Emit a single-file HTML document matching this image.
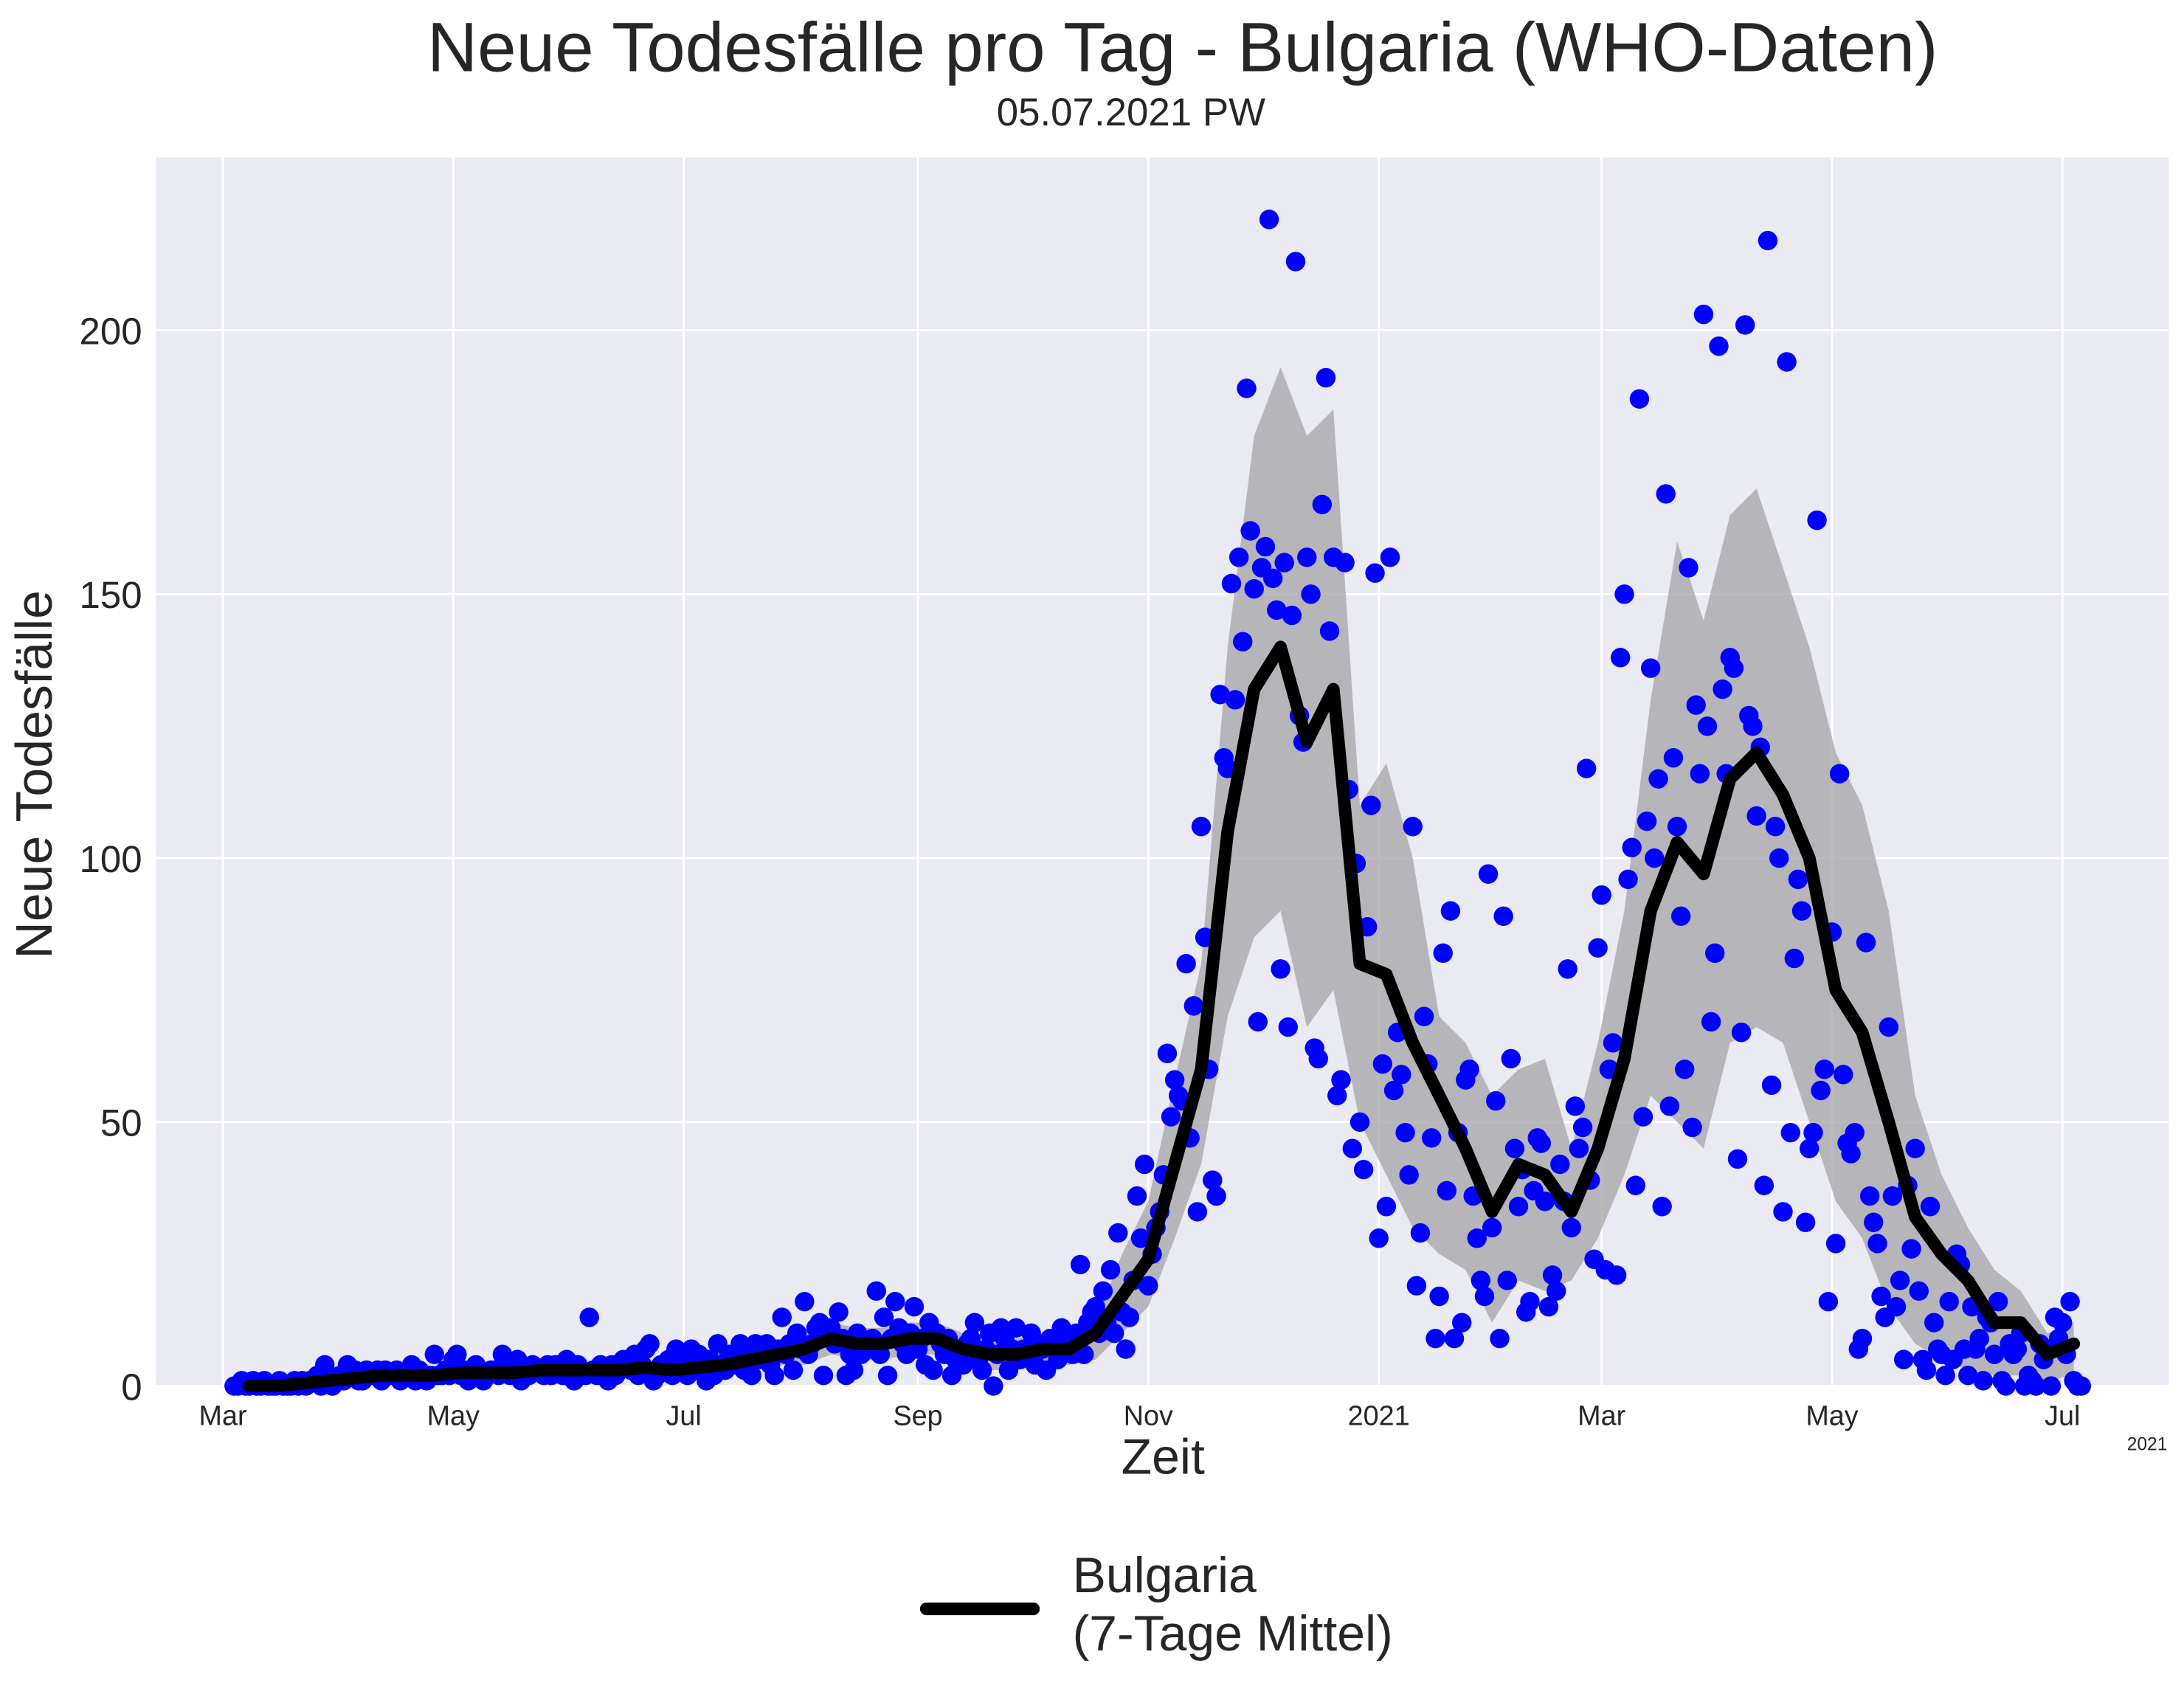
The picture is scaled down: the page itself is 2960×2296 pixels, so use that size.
<!DOCTYPE html>
<html><head><meta charset="utf-8"><style>
html,body{margin:0;padding:0;background:#fff}
svg{display:block}
text{font-family:"Liberation Sans",Arial,sans-serif;fill:#262626}
</style></head><body>
<svg id="chart" width="2960" height="2296" viewBox="0 0 1568 1216" xmlns="http://www.w3.org/2000/svg">
<rect x="112" y="113" width="1445" height="882" fill="#eaeaf2"/>
<g id="grid"></g>
<g id="band"></g>
<g id="dots"></g>
<g id="meanline"></g>
<g id="ticks"></g>
<text x="849" y="51" font-size="50" text-anchor="middle">Neue Todesfälle pro Tag - Bulgaria (WHO-Daten)</text>
<text x="812" y="90" font-size="28" text-anchor="middle">05.07.2021 PW</text>
<text x="0" y="0" font-size="37" text-anchor="middle" transform="translate(37,556) rotate(-90)">Neue Todesfälle</text>
<text x="835" y="1058" font-size="36" text-anchor="middle">Zeit</text>
<text x="1556" y="1041" font-size="13" text-anchor="end">2021</text>
<g>
<line x1="665" y1="1155" x2="742" y2="1155" stroke="#000" stroke-width="9" stroke-linecap="round"/>
<text x="770" y="1143" font-size="36">Bulgaria</text>
<text x="770" y="1185" font-size="36">(7-Tage Mittel)</text>
</g>
</svg>
<script>
const monthLabels=["Mar","May","Jul","Sep","Nov","2021","Mar","May","Jul"];
const monthDays=[0,61,122,184,245,306,365,426,487];
const yTicks=[0,50,100,150,200];
const meanWeekly=[0,0,0.5,1,1.5,2,2,2,2.5,2.5,2.5,3,3,3,3,3.5,3,3.5,4,5,6,7,9,8,8,9,9,7,6,6,7,7,10,17,24,42,60,105,132,140,122,132,80,78,65,55,45,33,42,40,33,45,62,90,103,97,115,120,112,100,75,67,50,32,25,20,12,12,6,8];
const upperWeekly=[1,1,1.5,2,3,3,3,3,4,4,4,4.5,4.5,4.5,4.5,5,4.5,5,6,7,8,10,12,11,11,12,12,10,9,9,10,10,12,25,35,58,80,140,180,193,180,185,110,118,100,70,65,55,60,62,45,65,90,130,160,145,165,170,155,140,120,110,90,55,40,30,22,18,10,12];
const lowerWeekly=[0,0,0,0,0,0.5,0.5,0.5,1,1,1,1.5,1.5,1.5,1.5,2,1.5,2,2,3,4,4,6,5,5,6,6,4,3,3,4,4,5,10,15,28,42,70,85,90,68,75,50,40,30,25,22,12,20,18,20,28,40,55,50,45,65,68,65,50,35,28,15,8,5,3,2,2,1,2];
const dailyValues=[0,0,1,0,0,1,0,0,1,0,0,0,1,0,0,0,1,0,1,0,1,1,2,0,4,1,0,1,
2,1,4,2,3,1,1,3,2,2,3,1,3,2,2,3,1,2,2,4,1,3,2,1,2,6,2,2,
3,2,5,6,2,3,1,2,4,3,1,2,3,3,2,6,3,2,4,5,1,3,2,4,3,3,2,4,
2,4,3,2,5,3,1,4,2,2,13,3,2,4,3,1,4,2,3,5,4,3,6,2,4,7,8,1,
2,4,3,5,2,7,3,4,2,7,3,6,4,1,5,2,8,4,3,6,4,5,8,3,7,2,8,5,
6,8,4,2,7,13,6,8,3,10,7,16,6,8,11,12,2,10,11,8,14,9,2,6,3,10,6,8,
7,9,18,6,13,2,9,16,11,8,6,10,15,7,9,4,12,3,10,8,6,9,2,5,7,4,8,9,
12,5,3,7,10,0,6,11,9,3,7,11,5,7,6,10,4,8,7,3,9,8,5,11,9,7,6,10,
23,6,12,14,15,10,18,12,22,10,29,14,7,13,20,36,28,42,19,25,30,33,40,63,51,58,55,54,
80,47,72,33,106,85,60,39,36,131,119,117,152,130,157,141,189,162,151,69,155,159,221,153,147,79,156,68,
146,213,127,122,157,150,64,62,167,191,143,157,55,58,156,113,45,99,50,41,87,110,154,28,61,34,157,56,
67,59,48,40,106,19,29,70,61,47,9,17,82,37,90,9,48,12,58,60,36,28,20,17,97,30,54,9,
89,20,62,45,34,41,14,16,37,47,46,35,15,21,18,42,35,79,30,53,45,49,117,39,24,83,93,22,
60,65,21,138,150,96,102,38,187,51,107,136,100,115,34,169,53,119,106,89,60,155,49,129,116,203,125,69,
82,197,132,116,138,136,43,67,201,127,125,108,121,38,217,57,106,100,33,194,48,81,96,90,31,45,48,164,
56,60,16,86,27,116,59,46,44,48,7,9,84,36,31,27,17,13,68,36,15,20,5,38,26,45,18,5,
3,34,12,7,6,2,16,5,25,23,7,2,15,7,9,1,13,12,6,16,1,0,8,6,7,10,0,2,
1,0,8,5,7,0,13,9,12,6,16,1,0,0];

const NS="http://www.w3.org/2000/svg";
const X0=160, PXD=2.712, START=7, DOT_START=3;
function xDay(d){return X0+d*PXD;}
function yVal(v){return 995-v*(758/200);}
function mk(tag,attrs,parent){const e=document.createElementNS(NS,tag);for(const k in attrs)e.setAttribute(k,attrs[k]);parent.appendChild(e);return e;}
const grid=document.getElementById('grid'),ticks=document.getElementById('ticks');
monthDays.forEach((d,i)=>{
  const l=mk('line',{x1:xDay(d),x2:xDay(d),y1:113,y2:995,stroke:'#fff','stroke-width':1.5},grid);
  
  
  const t=mk('text',{x:xDay(d),y:1023,'font-size':20,'text-anchor':'middle'},ticks);
  t.textContent=monthLabels[i];
  
  
});
yTicks.forEach(v=>{
  const l=mk('line',{x1:112,x2:1557,y1:yVal(v),y2:yVal(v),stroke:'#fff','stroke-width':1.5},grid);
  
  
  const t=mk('text',{x:102,y:yVal(v)+10,'font-size':27,'text-anchor':'end'},ticks);
  t.textContent=v;
  
  
});
let up=[],lo=[];
upperWeekly.forEach((v,i)=>up.push(xDay(START+i*7).toFixed(1)+','+yVal(v).toFixed(1)));
lowerWeekly.forEach((v,i)=>lo.push(xDay(START+i*7).toFixed(1)+','+yVal(v).toFixed(1)));
const band=mk('polygon',{points:up.concat(lo.reverse()).join(' '),fill:'#a9a9ab',opacity:0.8},document.getElementById('band'));


const dots=document.getElementById('dots');
dailyValues.forEach((v,i)=>{
  const c=mk('circle',{cx:xDay(DOT_START+i).toFixed(1),cy:yVal(v).toFixed(1),r:7,fill:'#0000ff'},dots);
  
  
});
const pts=meanWeekly.map((v,i)=>xDay(START+i*7).toFixed(1)+','+yVal(v).toFixed(1)).join(' ');
const ml=mk('polyline',{points:pts,fill:'none',stroke:'#000','stroke-width':9,'stroke-linejoin':'round','stroke-linecap':'round'},document.getElementById('meanline'));


</script>
</body></html>
